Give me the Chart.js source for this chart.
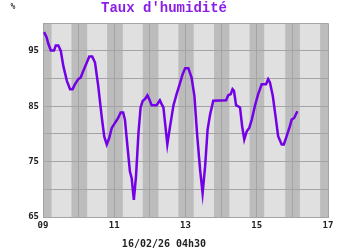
<!DOCTYPE html>
<html>
<head>
<meta charset="utf-8">
<script src="https://cdn.jsdelivr.net/npm/chart.js@4/dist/chart.umd.min.js"></script>
<style>
  body { margin: 0; background: #fff; }
  #wrap { width: 350px; height: 250px; }
</style>
</head>
<body>
<div id="wrap"><canvas id="humidity-chart"></canvas></div>
<script>
// time in days of the month (09 = 9 Feb 00h), humidity in %
const days = [9.03, 9.10, 9.15, 9.22, 9.31, 9.36, 9.43, 9.50, 9.57, 9.67, 9.76, 9.83, 9.90, 9.99,
  10.06, 10.13, 10.23, 10.30, 10.38, 10.46, 10.55, 10.65, 10.72, 10.79, 10.86, 10.93, 10.99,
  11.05, 11.11, 11.18, 11.25, 11.30, 11.37, 11.44, 11.49, 11.55, 11.61, 11.68, 11.74, 11.80, 11.86, 11.93, 11.98,
  12.05, 12.19, 12.28, 12.33, 12.38, 12.49, 12.56, 12.66, 12.75, 12.85, 12.92, 12.99,
  13.08, 13.17, 13.25, 13.33, 13.41, 13.48, 13.55, 13.62, 13.69, 13.78,
  14.14, 14.20, 14.27, 14.32, 14.36, 14.42, 14.53, 14.59, 14.65, 14.72, 14.79, 14.86, 14.95,
  15.04, 15.14, 15.26, 15.32, 15.37, 15.45, 15.54, 15.60, 15.70, 15.76, 15.84, 15.93, 15.98,
  16.05, 16.14];
const humidity = [98.4, 97.5, 96.3, 95.1, 95.1, 96, 96, 95, 92.3, 89.6, 88.1, 88.1, 89, 89.9,
  90.2, 91.4, 92.9, 94, 94, 92.9, 88.7, 83, 79.5, 78.1, 79.3, 81.1, 81.7,
  82.3, 82.9, 83.9, 83.9, 82.6, 77.8, 73.2, 72, 68.1, 72.3, 80.2, 84.8, 86, 86.3, 87, 86.3,
  85.2, 85.2, 86.1, 85.4, 84.8, 78.1, 81.1, 85.1, 87.2, 89.3, 90.8, 91.9,
  91.9, 90.2, 86.9, 79.6, 73.5, 69.3, 74.1, 80.8, 83.5, 86,
  86.1, 87, 87.2, 88.1, 87.8, 85.2, 84.8, 81.4, 79, 80.5, 81.1, 82.6, 85.1,
  87.2, 89, 89, 89.9, 89.3, 86.9, 82.6, 79.6, 78.1, 78.1, 79.6, 81.4, 82.6,
  82.9, 84.1];

// night bands (start, end) in days
const nightStart = [8.8, 9.8, 10.8, 11.8, 12.8, 13.8, 14.8, 15.8, 16.78];
const nightEnd = [9.24, 10.24, 11.24, 12.24, 13.23, 14.23, 15.21, 16.21, 17.2];

const yLabels = [65, 75, 85, 95];
const titleText = "Taux d'humidité";
const dateText = '16/02/26 04h30';

const bands = {
  id: 'bands',
  beforeDraw(chart) {
    const { ctx, chartArea: a, scales: { x } } = chart;
    ctx.save();
    ctx.fillStyle = '#e0e0e0';
    ctx.fillRect(a.left, a.top, a.right - a.left, a.bottom - a.top);
    ctx.fillStyle = '#bcbcbc';
    nightStart.forEach((s, i) => {
      const x0 = Math.max(x.getPixelForValue(s), a.left);
      const x1 = Math.min(x.getPixelForValue(nightEnd[i]), a.right);
      if (x1 > x0) ctx.fillRect(x0, a.top, x1 - x0, a.bottom - a.top);
    });
    // unit label
    ctx.fillStyle = '#333';
    ctx.font = 'bold 8px "DejaVu Sans Mono"';
    ctx.textAlign = 'center';
    ctx.textBaseline = 'middle';
    ctx.fillText('%', 13, 7);
    ctx.restore();
  }
};

const ctx = document.getElementById('humidity-chart').getContext('2d');
const chart = new Chart(ctx, {
  type: 'line',
  data: {
    datasets: [{
      data: days.map((d, i) => ({ x: d, y: humidity[i] })),
      borderColor: '#7300e6',
      borderWidth: 2.5,
      pointRadius: 0,
      tension: 0,
      fill: false
    }]
  },
  options: {
    responsive: true,
    maintainAspectRatio: false,
    animation: false,
    layout: { padding: { left: 0, right: 22, top: 0, bottom: 0 } },
    plugins: {
      legend: { display: false },
      tooltip: { enabled: false },
      title: {
        display: true,
        text: titleText,
        color: '#8a1ee6',
        font: { family: '"Liberation Mono"', size: 14, weight: 'bold' },
        padding: { top: 0, bottom: 6.5 }
      },
      subtitle: {
        display: true,
        position: 'bottom',
        text: dateText,
        color: '#222',
        font: { family: '"DejaVu Sans Mono"', size: 10, weight: 'bold' },
        padding: { top: 0, bottom: 0 }
      }
    },
    scales: {
      x: {
        type: 'linear',
        min: 9,
        max: 17,
        afterFit(s) { s.height = 21; },
        grid: { color: '#a4a4a4', lineWidth: 1, drawTicks: false },
        border: { color: '#a4a4a4' },
        ticks: {
          stepSize: 1,
          padding: 3,
          maxRotation: 0,
          autoSkip: false,
          color: '#222',
          font: { family: '"DejaVu Sans Mono"', size: 9, weight: 'bold' },
          callback: v => (v % 2 === 1 ? String(v).padStart(2, '0') : '')
        }
      },
      y: {
        min: 65,
        max: 100,
        afterFit(s) { s.width = 43; },
        grid: { color: '#a4a4a4', lineWidth: 1, drawTicks: false },
        border: { color: '#a4a4a4' },
        ticks: {
          stepSize: 5,
          padding: 4,
          color: '#222',
          font: { family: '"DejaVu Sans Mono"', size: 9, weight: 'bold' },
          callback: v => (yLabels.includes(v) ? String(v) : '')
        }
      }
    }
  },
  plugins: [bands]
});
</script>
</body>
</html>
